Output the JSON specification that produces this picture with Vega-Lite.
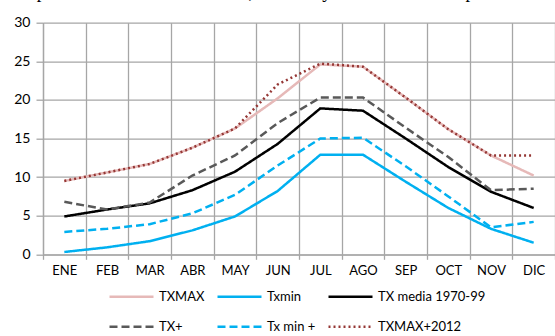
{
  "$schema": "https://vega.github.io/schema/vega-lite/v6.json",
  "autosize": {"type": "none"},
  "width": 512,
  "height": 231.6,
  "padding": {"left": 43, "top": 22.7, "right": 0, "bottom": 81.7},
  "title": {
    "text": "Temperatura mensual MAXIMA, MEDIA y MINIMA con respecto a 1970-99",
    "anchor": "start",
    "frame": "group",
    "dx": -39,
    "offset": -0.5,
    "baseline": "alphabetic",
    "font": "Liberation Serif",
    "fontSize": 18.6,
    "fontWeight": "normal",
    "color": "#000000"
  },
  "config": {
    "view": {"stroke": null},
    "font": "Lato"
  },
  "data": {
    "values": [
      {"mes": "ENE", "serie": "TXMAX", "t": 9.5},
      {"mes": "FEB", "serie": "TXMAX", "t": 10.6},
      {"mes": "MAR", "serie": "TXMAX", "t": 11.7},
      {"mes": "ABR", "serie": "TXMAX", "t": 13.8},
      {"mes": "MAY", "serie": "TXMAX", "t": 16.3},
      {"mes": "JUN", "serie": "TXMAX", "t": 20.2},
      {"mes": "JUL", "serie": "TXMAX", "t": 24.6},
      {"mes": "AGO", "serie": "TXMAX", "t": 24.3},
      {"mes": "SEP", "serie": "TXMAX", "t": 20.3},
      {"mes": "OCT", "serie": "TXMAX", "t": 16.2},
      {"mes": "NOV", "serie": "TXMAX", "t": 12.8},
      {"mes": "DIC", "serie": "TXMAX", "t": 10.2},

      {"mes": "ENE", "serie": "Txmin", "t": 0.3},
      {"mes": "FEB", "serie": "Txmin", "t": 0.9},
      {"mes": "MAR", "serie": "Txmin", "t": 1.7},
      {"mes": "ABR", "serie": "Txmin", "t": 3.1},
      {"mes": "MAY", "serie": "Txmin", "t": 4.9},
      {"mes": "JUN", "serie": "Txmin", "t": 8.2},
      {"mes": "JUL", "serie": "Txmin", "t": 12.9},
      {"mes": "AGO", "serie": "Txmin", "t": 12.9},
      {"mes": "SEP", "serie": "Txmin", "t": 9.4},
      {"mes": "OCT", "serie": "Txmin", "t": 6.0},
      {"mes": "NOV", "serie": "Txmin", "t": 3.3},
      {"mes": "DIC", "serie": "Txmin", "t": 1.5},

      {"mes": "ENE", "serie": "TX media 1970-99", "t": 4.9},
      {"mes": "FEB", "serie": "TX media 1970-99", "t": 5.8},
      {"mes": "MAR", "serie": "TX media 1970-99", "t": 6.6},
      {"mes": "ABR", "serie": "TX media 1970-99", "t": 8.3},
      {"mes": "MAY", "serie": "TX media 1970-99", "t": 10.7},
      {"mes": "JUN", "serie": "TX media 1970-99", "t": 14.3},
      {"mes": "JUL", "serie": "TX media 1970-99", "t": 18.9},
      {"mes": "AGO", "serie": "TX media 1970-99", "t": 18.6},
      {"mes": "SEP", "serie": "TX media 1970-99", "t": 15.0},
      {"mes": "OCT", "serie": "TX media 1970-99", "t": 11.3},
      {"mes": "NOV", "serie": "TX media 1970-99", "t": 8.1},
      {"mes": "DIC", "serie": "TX media 1970-99", "t": 6.0},

      {"mes": "ENE", "serie": "TX+", "t": 6.8},
      {"mes": "FEB", "serie": "TX+", "t": 5.8},
      {"mes": "MAR", "serie": "TX+", "t": 6.7},
      {"mes": "ABR", "serie": "TX+", "t": 10.2},
      {"mes": "MAY", "serie": "TX+", "t": 12.8},
      {"mes": "JUN", "serie": "TX+", "t": 17.0},
      {"mes": "JUL", "serie": "TX+", "t": 20.3},
      {"mes": "AGO", "serie": "TX+", "t": 20.3},
      {"mes": "SEP", "serie": "TX+", "t": 16.4},
      {"mes": "OCT", "serie": "TX+", "t": 12.6},
      {"mes": "NOV", "serie": "TX+", "t": 8.3},
      {"mes": "DIC", "serie": "TX+", "t": 8.5},

      {"mes": "ENE", "serie": "Tx min +", "t": 2.9},
      {"mes": "FEB", "serie": "Tx min +", "t": 3.3},
      {"mes": "MAR", "serie": "Tx min +", "t": 3.9},
      {"mes": "ABR", "serie": "Tx min +", "t": 5.3},
      {"mes": "MAY", "serie": "Tx min +", "t": 7.7},
      {"mes": "JUN", "serie": "Tx min +", "t": 11.5},
      {"mes": "JUL", "serie": "Tx min +", "t": 15.0},
      {"mes": "AGO", "serie": "Tx min +", "t": 15.1},
      {"mes": "SEP", "serie": "Tx min +", "t": 11.4},
      {"mes": "OCT", "serie": "Tx min +", "t": 7.5},
      {"mes": "NOV", "serie": "Tx min +", "t": 3.5},
      {"mes": "DIC", "serie": "Tx min +", "t": 4.2},

      {"mes": "ENE", "serie": "TXMAX+2012", "t": 9.5},
      {"mes": "FEB", "serie": "TXMAX+2012", "t": 10.6},
      {"mes": "MAR", "serie": "TXMAX+2012", "t": 11.7},
      {"mes": "ABR", "serie": "TXMAX+2012", "t": 13.8},
      {"mes": "MAY", "serie": "TXMAX+2012", "t": 16.3},
      {"mes": "JUN", "serie": "TXMAX+2012", "t": 22.0},
      {"mes": "JUL", "serie": "TXMAX+2012", "t": 24.7},
      {"mes": "AGO", "serie": "TXMAX+2012", "t": 24.3},
      {"mes": "SEP", "serie": "TXMAX+2012", "t": 20.3},
      {"mes": "OCT", "serie": "TXMAX+2012", "t": 16.2},
      {"mes": "NOV", "serie": "TXMAX+2012", "t": 12.8},
      {"mes": "DIC", "serie": "TXMAX+2012", "t": 12.8}
    ]
  },
  "mark": {"type": "line", "strokeWidth": 2.5},
  "encoding": {
    "x": {
      "field": "mes",
      "type": "ordinal",
      "sort": ["ENE","FEB","MAR","ABR","MAY","JUN","JUL","AGO","SEP","OCT","NOV","DIC"],
      "scale": {"paddingInner": 0, "paddingOuter": 0},
      "axis": {
        "title": null,
        "labelAngle": 0,
        "tickBand": "extent",
        "grid": true,
        "gridColor": "#a6a6a6",
        "gridWidth": 1.3,
        "gridOpacity": 1,
        "domain": true,
        "domainColor": "#a6a6a6",
        "domainWidth": 1.3,
        "tickColor": "#a6a6a6",
        "tickWidth": 1.3,
        "tickSize": 5,
        "labelPadding": 5,
        "labelFont": "Lato",
        "labelFontSize": 13,
        "labelColor": "#000000"
      }
    },
    "y": {
      "field": "t",
      "type": "quantitative",
      "scale": {"domain": [0, 30], "nice": false},
      "axis": {
        "title": null,
        "values": [0, 5, 10, 15, 20, 25, 30],
        "grid": true,
        "gridColor": "#a6a6a6",
        "gridWidth": 1.3,
        "gridOpacity": 1,
        "domain": true,
        "domainColor": "#a6a6a6",
        "domainWidth": 1.3,
        "tickColor": "#a6a6a6",
        "tickWidth": 1.3,
        "tickSize": 7,
        "labelPadding": 6,
        "labelFont": "Lato",
        "labelFontSize": 14,
        "labelColor": "#000000"
      }
    },
    "color": {
      "field": "serie",
      "type": "nominal",
      "scale": {
        "domain": ["TXMAX", "Txmin", "TX media 1970-99", "TX+", "Tx min +", "TXMAX+2012"],
        "range": ["#e6b9b8", "#00b0f0", "#000000", "#595959", "#00b0f0", "#953735"]
      },
      "legend": {
        "title": null,
        "orient": "none",
        "legendX": 65,
        "legendY": 266,
        "direction": "horizontal",
        "columns": 3,
        "clipHeight": 16,
        "symbolType": "stroke",
        "symbolSize": 1936,
        "symbolStrokeWidth": 2.5,
        "labelFont": "Lato",
        "labelFontSize": 13,
        "labelColor": "#000000",
        "labelOffset": 4,
        "columnPadding": 11,
        "rowPadding": 14,
        "labelLimit": 300
      }
    },
    "strokeDash": {
      "field": "serie",
      "type": "nominal",
      "scale": {
        "domain": ["TXMAX", "Txmin", "TX media 1970-99", "TX+", "Tx min +", "TXMAX+2012"],
        "range": [[1, 0], [1, 0], [1, 0], [8, 4], [8, 4], [2, 3]]
      },
      "legend": null
    }
  }
}
